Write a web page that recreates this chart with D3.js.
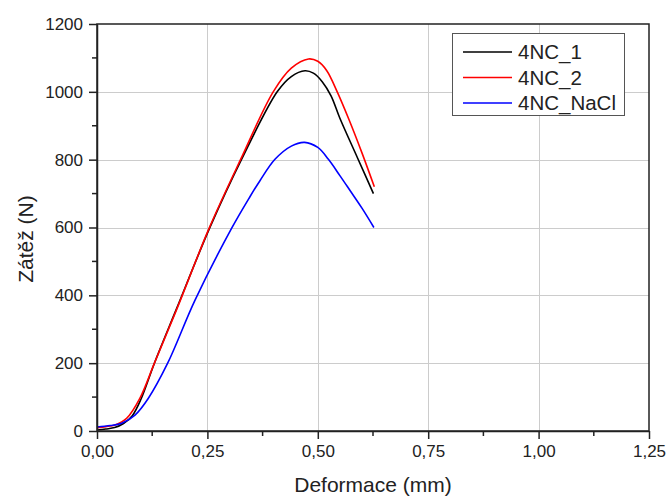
<!DOCTYPE html>
<html>
<head>
<meta charset="utf-8">
<script src="https://cdn.jsdelivr.net/npm/d3@7/dist/d3.min.js"></script>
<style>
  html, body { margin: 0; padding: 0; background: #fff; }
  svg { display: block; font-family: "Liberation Sans", Arial, sans-serif; }
</style>
</head>
<body>
<svg id="chart" width="672" height="497"></svg>
<script>
// Load–deformation curves (deformation in mm, load in N)
const seriesNames = ["4NC_1", "4NC_2", "4NC_NaCl"];
const seriesColors = ["#000000", "#ff0000", "#0000ff"];

const defo1 = [0, 0.02, 0.04, 0.06, 0.08, 0.10, 0.13, 0.18, 0.255, 0.327, 0.408, 0.44, 0.471, 0.49, 0.51, 0.53, 0.55, 0.59, 0.626];
const load1 = [3, 6, 10, 22, 45, 95, 200, 360, 598, 800, 1000, 1045, 1062, 1055, 1030, 988, 922, 805, 700];

const defo2 = [0, 0.02, 0.041, 0.067, 0.097, 0.13, 0.18, 0.254, 0.325, 0.399, 0.44, 0.479, 0.50, 0.52, 0.544, 0.571, 0.60, 0.628];
const load2 = [10, 13, 18, 37, 96, 200, 357, 598, 800, 1000, 1070, 1097, 1090, 1063, 1000, 917, 820, 720];

const defo3 = [0, 0.03, 0.056, 0.086, 0.116, 0.160, 0.222, 0.305, 0.346, 0.369, 0.403, 0.44, 0.47, 0.50, 0.524, 0.55, 0.573, 0.60, 0.627];
const load3 = [12, 16, 23, 47, 96, 200, 386, 598, 690, 738, 801, 840, 851, 836, 801, 753, 709, 657, 600];

const xTicks = [0, 0.25, 0.5, 0.75, 1.0, 1.25];
const yTicks = [0, 200, 400, 600, 800, 1000, 1200];
const xMinor = [0.125, 0.375, 0.625, 0.875, 1.125];
const yMinor = [100, 300, 500, 700, 900, 1100];

const series = [
  { name: seriesNames[0], color: seriesColors[0], xs: defo1, ys: load1 },
  { name: seriesNames[1], color: seriesColors[1], xs: defo2, ys: load2 },
  { name: seriesNames[2], color: seriesColors[2], xs: defo3, ys: load3 }
];

const svg = d3.select("#chart");
const plotL = 97, plotR = 649, plotT = 24, plotB = 431;

const x = d3.scaleLinear().domain([0, 1.25]).range([plotL, plotR]);
const y = d3.scaleLinear().domain([0, 1200]).range([plotB, plotT]);
const fmt = d => d3.format(".2f")(d).replace(".", ",");

// grid
const grid = svg.append("g").attr("stroke", "#cccccc").attr("stroke-width", 1);
grid.selectAll("line.gx").data(xTicks.slice(1, -1)).join("line")
  .attr("x1", d => Math.round(x(d)) + 0.5).attr("x2", d => Math.round(x(d)) + 0.5)
  .attr("y1", plotT).attr("y2", plotB);
grid.selectAll("line.gy").data(yTicks.slice(1, -1)).join("line")
  .attr("x1", plotL).attr("x2", plotR)
  .attr("y1", d => Math.round(y(d)) + 0.5).attr("y2", d => Math.round(y(d)) + 0.5);

// curves
const line = d3.line().curve(d3.curveCatmullRom.alpha(0.5)).x(d => x(d[0])).y(d => y(d[1]));
svg.append("g").selectAll("path").data(series).join("path")
  .attr("fill", "none")
  .attr("stroke", d => d.color)
  .attr("stroke-width", 1.6)
  .attr("d", d => line(d.xs.map((v, i) => [v, d.ys[i]])));

// axes
const xAxis = svg.append("g").attr("transform", `translate(0,${plotB})`)
  .call(d3.axisBottom(x).tickValues(xTicks).tickFormat(fmt).tickSize(8).tickSizeOuter(0).tickPadding(6));
xAxis.append("g").selectAll("line").data(xMinor).join("line")
  .attr("x1", d => x(d)).attr("x2", d => x(d)).attr("y1", 0).attr("y2", 5)
  .attr("stroke", "#222").attr("stroke-width", 1.5);

const yAxis = svg.append("g").attr("transform", `translate(${plotL},0)`)
  .call(d3.axisLeft(y).tickValues(yTicks).tickFormat(d3.format("d")).tickSize(8).tickSizeOuter(0).tickPadding(6));
yAxis.append("g").selectAll("line").data(yMinor).join("line")
  .attr("x1", 0).attr("x2", -5).attr("y1", d => y(d)).attr("y2", d => y(d))
  .attr("stroke", "#222").attr("stroke-width", 1.5);

[xAxis, yAxis].forEach(a => {
  a.selectAll(".domain").attr("stroke", "#222").attr("stroke-width", 1.5);
  a.selectAll(".tick line").attr("stroke", "#222").attr("stroke-width", 1.5);
  a.selectAll("text").attr("font-size", 17).attr("fill", "#222")
    .attr("font-family", "'Liberation Sans', Arial, sans-serif");
});

// frame
svg.append("rect").attr("x", plotL).attr("y", plotT)
  .attr("width", plotR - plotL).attr("height", plotB - plotT)
  .attr("fill", "none").attr("stroke", "#222").attr("stroke-width", 1.5);

// axis titles
svg.append("text").attr("x", (plotL + plotR) / 2).attr("y", 492)
  .attr("text-anchor", "middle").attr("font-size", 21).attr("fill", "#222")
  .text("Deformace (mm)");
svg.append("text").attr("transform", "translate(33,239) rotate(-90)")
  .attr("text-anchor", "middle").attr("font-size", 21).attr("fill", "#222")
  .text("Zátěž (N)");

// legend
const lg = svg.append("g");
lg.append("rect").attr("x", 452.5).attr("y", 33.5).attr("width", 172).attr("height", 82)
  .attr("fill", "#fff").attr("stroke", "#555").attr("stroke-width", 1);
const rows = lg.selectAll("g.row").data(series).join("g")
  .attr("transform", (d, i) => `translate(0,${52 + i * 25.5})`);
rows.append("line").attr("x1", 463).attr("x2", 512).attr("y1", 0).attr("y2", 0)
  .attr("stroke", d => d.color).attr("stroke-width", 1.6);
rows.append("text").attr("x", 518).attr("y", 7).attr("font-size", 20.5).attr("fill", "#222")
  .text(d => d.name);
</script>
</body>
</html>
